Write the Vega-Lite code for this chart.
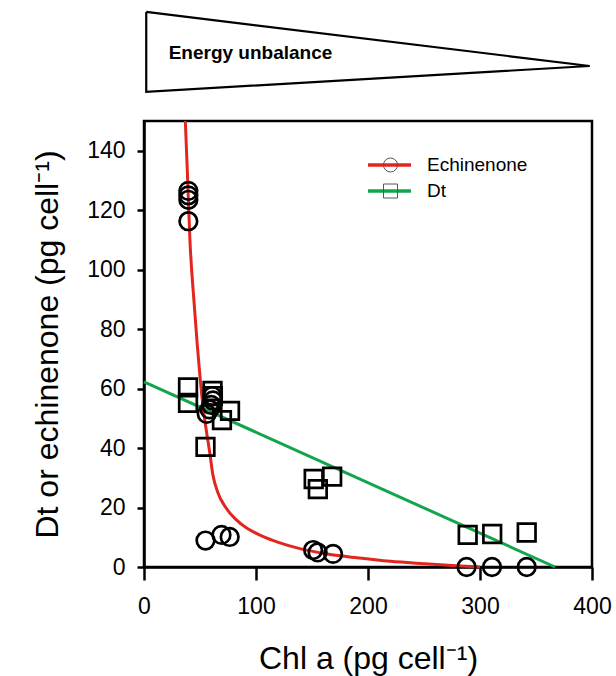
{
  "$schema": "https://vega.github.io/schema/vega-lite/v6.json",
  "width": 448,
  "height": 446,
  "autosize": {"type": "none"},
  "padding": {"left": 144, "top": 121, "right": 24, "bottom": 109},
  "background": "white",
  "config": {
    "view": {"stroke": "black", "strokeWidth": 2.5},
    "font": "Liberation Sans",
    "axis": {
      "grid": false,
      "labelFlush": false,
      "labelOverlap": false,
      "domainColor": "black",
      "domainWidth": 2.5,
      "tickColor": "black",
      "tickWidth": 2.5,
      "labelColor": "black",
      "labelFont": "Liberation Sans",
      "labelFontSize": 23,
      "titleFont": "Liberation Sans",
      "titleFontSize": 32,
      "titleFontWeight": "normal",
      "titleColor": "black"
    }
  },
  "datasets": {
    "tri": [
      {"x": 2, "y": 186.7, "o": 1},
      {"x": 398, "y": 168.5, "o": 2},
      {"x": 2, "y": 159.8, "o": 3},
      {"x": 2, "y": 186.7, "o": 4}
    ],
    "note": [
      {"x": 22, "y": 170.8, "label": "Energy unbalance"}
    ],
    "fit": [
      {"series": "Echinenone", "x": 36.9, "y": 150},
      {"series": "Echinenone", "x": 38.7, "y": 133},
      {"series": "Echinenone", "x": 41, "y": 110},
      {"series": "Echinenone", "x": 44.5, "y": 90},
      {"series": "Echinenone", "x": 47.5, "y": 75},
      {"series": "Echinenone", "x": 50, "y": 64},
      {"series": "Echinenone", "x": 53, "y": 53},
      {"series": "Echinenone", "x": 56, "y": 45},
      {"series": "Echinenone", "x": 58.5, "y": 39},
      {"series": "Echinenone", "x": 61.5, "y": 31},
      {"series": "Echinenone", "x": 66, "y": 25},
      {"series": "Echinenone", "x": 73, "y": 20},
      {"series": "Echinenone", "x": 82, "y": 16},
      {"series": "Echinenone", "x": 92, "y": 13},
      {"series": "Echinenone", "x": 105, "y": 10.5},
      {"series": "Echinenone", "x": 120, "y": 8.3},
      {"series": "Echinenone", "x": 140, "y": 6.1},
      {"series": "Echinenone", "x": 165, "y": 4.3},
      {"series": "Echinenone", "x": 190, "y": 3.1},
      {"series": "Echinenone", "x": 220, "y": 1.9},
      {"series": "Echinenone", "x": 250, "y": 1.1},
      {"series": "Echinenone", "x": 275, "y": 0.5},
      {"series": "Echinenone", "x": 300, "y": 0},
      {"series": "Dt", "x": 0, "y": 62.3},
      {"series": "Dt", "x": 367, "y": 0}
    ],
    "pts": [
      {"series": "Echinenone", "x": 39.6, "y": 126.5},
      {"series": "Echinenone", "x": 39.6, "y": 125},
      {"series": "Echinenone", "x": 39.6, "y": 123.5},
      {"series": "Echinenone", "x": 39.6, "y": 116.3},
      {"series": "Echinenone", "x": 61, "y": 57.5},
      {"series": "Echinenone", "x": 61.5, "y": 56},
      {"series": "Echinenone", "x": 60, "y": 54.5},
      {"series": "Echinenone", "x": 58.5, "y": 53},
      {"series": "Echinenone", "x": 56, "y": 51.5},
      {"series": "Echinenone", "x": 54.9, "y": 8.9},
      {"series": "Echinenone", "x": 69.2, "y": 10.8},
      {"series": "Echinenone", "x": 76.5, "y": 10.1},
      {"series": "Echinenone", "x": 151, "y": 5.7},
      {"series": "Echinenone", "x": 155, "y": 4.9},
      {"series": "Echinenone", "x": 168.8, "y": 4.4},
      {"series": "Echinenone", "x": 288, "y": 0},
      {"series": "Echinenone", "x": 310.7, "y": 0},
      {"series": "Echinenone", "x": 341.7, "y": 0},
      {"series": "Dt", "x": 39.3, "y": 60.4},
      {"series": "Dt", "x": 39.3, "y": 55.2},
      {"series": "Dt", "x": 61.2, "y": 59.2},
      {"series": "Dt", "x": 61.5, "y": 57.5},
      {"series": "Dt", "x": 69.6, "y": 49.4},
      {"series": "Dt", "x": 76.8, "y": 52.5},
      {"series": "Dt", "x": 54.9, "y": 40.4},
      {"series": "Dt", "x": 151.5, "y": 29.6},
      {"series": "Dt", "x": 155.2, "y": 26.2},
      {"series": "Dt", "x": 168, "y": 30.4},
      {"series": "Dt", "x": 289, "y": 10.8},
      {"series": "Dt", "x": 310.9, "y": 11.1},
      {"series": "Dt", "x": 341.7, "y": 11.6}
    ]
  },
  "encoding": {
    "x": {
      "field": "x",
      "type": "quantitative",
      "scale": {"domain": [0, 400], "nice": false, "zero": false},
      "axis": {
        "values": [0, 100, 200, 300, 400],
        "tickSize": 13,
        "labelPadding": 15,
        "titlePadding": 25,
        "title": "Chl a (pg cell⁻¹)"
      }
    },
    "y": {
      "field": "y",
      "type": "quantitative",
      "scale": {"domain": [0, 150], "nice": false, "zero": false},
      "axis": {
        "values": [0, 20, 40, 60, 80, 100, 120, 140],
        "tickSize": 7,
        "labelPadding": 12,
        "titlePadding": 22,
        "title": "Dt or echinenone (pg cell⁻¹)"
      }
    }
  },
  "layer": [
    {
      "data": {"name": "tri"},
      "mark": {"type": "line", "clip": false, "color": "black", "strokeWidth": 2.2, "strokeJoin": "miter"},
      "encoding": {"order": {"field": "o", "type": "quantitative"}}
    },
    {
      "data": {"name": "note"},
      "mark": {"type": "text", "clip": false, "align": "left", "baseline": "alphabetic", "fontWeight": "bold", "fontSize": 19, "font": "Liberation Sans", "color": "black"},
      "encoding": {"text": {"field": "label"}}
    },
    {
      "data": {"name": "fit"},
      "mark": {"type": "line", "strokeWidth": 3, "interpolate": "monotone"},
      "encoding": {
        "color": {
          "field": "series",
          "type": "nominal",
          "scale": {"domain": ["Echinenone", "Dt"], "range": ["#e3261d", "#12a54c"]},
          "legend": {
            "orient": "none",
            "legendX": 222,
            "legendY": 34.5,
            "title": null,
            "padding": 0,
            "clipHeight": 19,
            "symbolType": "stroke",
            "symbolSize": 1849,
            "symbolStrokeWidth": 3.5,
            "labelFontSize": 19,
            "labelFont": "Liberation Sans",
            "labelColor": "black",
            "labelOffset": 14,
            "rowPadding": 6
          }
        }
      }
    },
    {
      "data": {"name": "pts"},
      "mark": {"type": "point", "filled": false, "color": "black", "strokeWidth": 2.7, "size": 310, "opacity": 1},
      "encoding": {
        "shape": {
          "field": "series",
          "type": "nominal",
          "sort": "descending",
          "scale": {"range": ["circle", "square"]},
          "legend": {
            "orient": "none",
            "legendX": 237,
            "legendY": 34.5,
            "title": null,
            "padding": 0,
            "clipHeight": 19,
            "symbolSize": 196,
            "symbolStrokeColor": "#555",
            "symbolStrokeWidth": 1,
            "symbolFillColor": "transparent",
            "labelFontSize": 19,
            "labelExpr": "''",
            "labelOpacity": 0,
            "rowPadding": 6
          }
        }
      }
    }
  ]
}
